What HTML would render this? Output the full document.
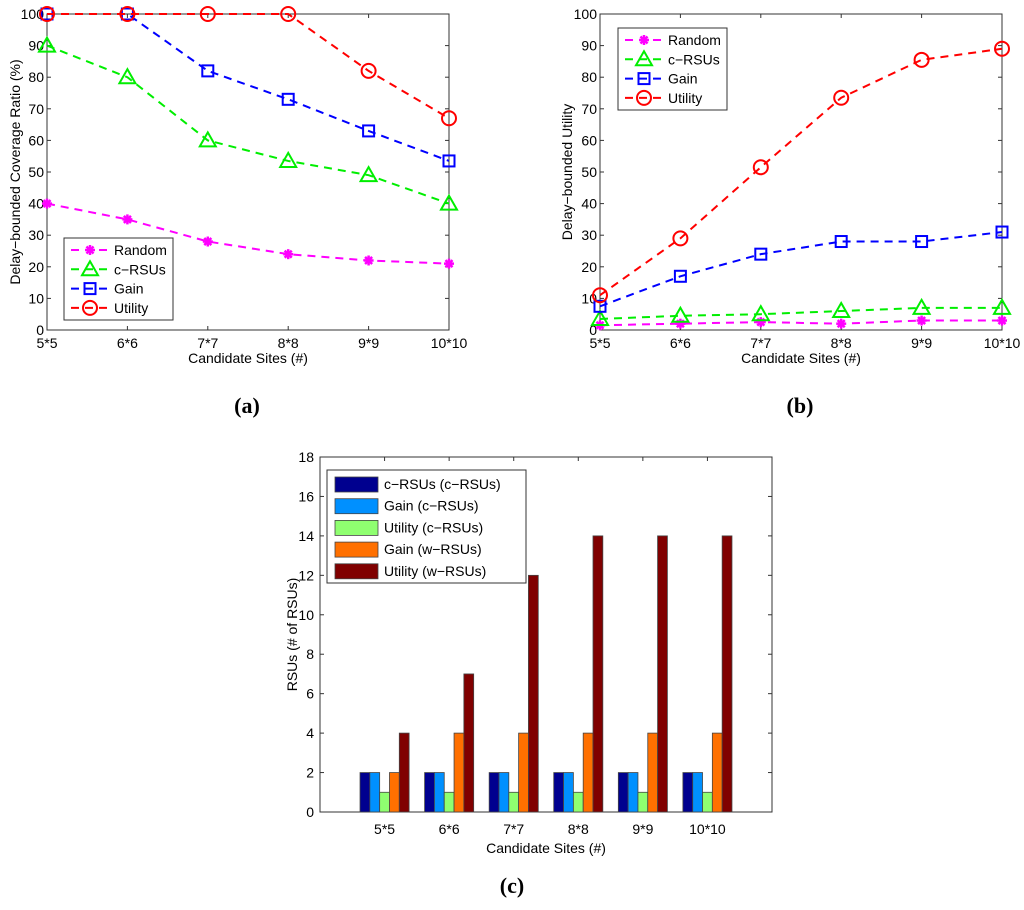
<!DOCTYPE html>
<html><head><meta charset="utf-8"><style>
body{margin:0;background:#fff;}
svg{display:block;font-family:"Liberation Sans",sans-serif;}
</style></head><body>
<svg id="root" width="1024" height="910" viewBox="0 0 1024 910" xmlns="http://www.w3.org/2000/svg"></svg>
<script>
const cats = ["5*5","6*6","7*7","8*8","9*9","10*10"];
const aRandom = [40,35,28,24,22,21];
const aCrsu = [90,80,60,53.5,49,40];
const aGain = [100,100,82,73,63,53.5];
const aUtil = [100,100,100,100,82,67];
const bRandom = [1.5,2,2.5,2,3,3];
const bCrsu = [3.5,4.5,5,6,7,7];
const bGain = [7.5,17,24,28,28,31];
const bUtil = [11,29,51.5,73.5,85.5,89];
const yTicksLine = [0,10,20,30,40,50,60,70,80,90,100];
const cCrsu = [2,2,2,2,2,2];
const cGainC = [2,2,2,2,2,2];
const cUtilC = [1,1,1,1,1,1];
const cGainW = [2,4,4,4,4,4];
const cUtilW = [4,7,12,14,14,14];
const yTicksBar = [0,2,4,6,8,10,12,14,16,18];

const NS="http://www.w3.org/2000/svg";
const root=document.getElementById('root');
function mk(tag,attrs,parent,name,text){const e=document.createElementNS(NS,tag);for(const k in attrs)e.setAttribute(k,attrs[k]);


if(text!==undefined)e.textContent=text;(parent||root).appendChild(e);return e;}

function marker(g,type,x,y,col,name){
 if(type==='star'){for(let i=0;i<4;i++){const a=i*Math.PI/4;mk('line',{x1:x-5*Math.cos(a),y1:y-5*Math.sin(a),x2:x+5*Math.cos(a),y2:y+5*Math.sin(a),stroke:col,'stroke-width':2.5},g,name);}}
 else if(type==='tri'){mk('polygon',{points:`${x},${y-8} ${x-8},${y+6} ${x+8},${y+6}`,fill:'none',stroke:col,'stroke-width':2},g,name);}
 else if(type==='sq'){mk('rect',{x:x-5.5,y:y-5.5,width:11,height:11,fill:'none',stroke:col,'stroke-width':2},g,name);}
 else {mk('circle',{cx:x,cy:y,r:7,fill:'none',stroke:col,'stroke-width':2},g,name);}
}

function linePanel(o){
 const g=mk('g',{},root,o.name);
 const X=i=>o.x0+(o.x1-o.x0)*i/(cats.length-1);
 const Y=v=>o.yb-(o.yb-o.yt)*v/100;
 mk('rect',{x:o.x0,y:o.yt,width:o.x1-o.x0,height:o.yb-o.yt,fill:'#fff',stroke:'#333','stroke-width':1},g,'plot-area');
 yTicksLine.forEach(v=>{const y=Y(v);
  mk('line',{x1:o.x0,y1:y,x2:o.x0+4,y2:y,stroke:'#333'},g,'y-tick');
  mk('line',{x1:o.x1,y1:y,x2:o.x1-4,y2:y,stroke:'#333'},g,'y-tick');
  mk('text',{x:o.x0-3,y:y+5,'text-anchor':'end','font-size':14},g,'y-tick-label',String(v));});
 cats.forEach((c,i)=>{const x=X(i);
  mk('line',{x1:x,y1:o.yb,x2:x,y2:o.yb-4,stroke:'#333'},g,'x-tick');
  mk('line',{x1:x,y1:o.yt,x2:x,y2:o.yt+4,stroke:'#333'},g,'x-tick');
  mk('text',{x:x,y:o.yb+18,'text-anchor':'middle','font-size':14},g,'x-tick-label',c);});
 o.series.forEach(s=>{
  const pts=s.data.map((v,i)=>X(i)+','+Y(v)).join(' ');
  mk('polyline',{points:pts,fill:'none',stroke:s.col,'stroke-width':2,'stroke-dasharray':'8,6'},g,'line-'+s.key);
  s.data.forEach((v,i)=>marker(g,s.m,X(i),Y(v),s.col,'point-'+s.key));
 });
 mk('text',{x:(o.x0+o.x1)/2,y:o.yb+33,'text-anchor':'middle','font-size':14},g,'x-axis-title','Candidate Sites (#)');
 mk('text',{x:0,y:0,'text-anchor':'middle','font-size':14,transform:`translate(${o.ytx},${(o.yt+o.yb)/2}) rotate(-90)`},g,'y-axis-title',o.ytitle);
 const L=mk('g',{},g,'legend');
 mk('rect',{x:o.lx,y:o.ly,width:109,height:82,fill:'#fff',stroke:'#333'},L,'legend-box');
 o.series.forEach((s,i)=>{const y=o.ly+12+i*19.3;
  mk('line',{x1:o.lx+7,y1:y,x2:o.lx+45,y2:y,stroke:s.col,'stroke-width':2,'stroke-dasharray':'8,6'},L,'legend-line');
  marker(L,s.m,o.lx+26,y,s.col,'legend-marker');
  mk('text',{x:o.lx+50,y:y+5,'font-size':14},L,'legend-entry',s.label);});
 mk('text',{x:o.labx,y:413,'text-anchor':'middle','font-size':22,'font-weight':'bold','font-family':'Liberation Serif, serif'},g,'panel-label',o.lab);
}
function ser(r,c,g,u){return [
 {key:'random',label:'Random',col:'#ff00ff',m:'star',data:r},
 {key:'c-rsus',label:'c\u2212RSUs',col:'#00ee00',m:'tri',data:c},
 {key:'gain',label:'Gain',col:'#0000ff',m:'sq',data:g},
 {key:'utility',label:'Utility',col:'#ff0000',m:'circ',data:u}];}
linePanel({name:'panel-a',x0:47,x1:449,yt:14,yb:330,ytx:20,ytitle:'Delay\u2212bounded Coverage Ratio (%)',lx:64,ly:238,series:ser(aRandom,aCrsu,aGain,aUtil),lab:'(a)',labx:247});
linePanel({name:'panel-b',x0:600,x1:1002,yt:14,yb:330,ytx:572,ytitle:'Delay\u2212bounded Utility',lx:618,ly:28,series:ser(bRandom,bCrsu,bGain,bUtil),lab:'(b)',labx:800});

(function(){
 const g=mk('g',{},root,'panel-c');
 const x0=320,x1=772,yt=457,yb=812;
 const X=u=>x0+(x1-x0)*u/7;
 const Y=v=>yb-(yb-yt)*v/18;
 mk('rect',{x:x0,y:yt,width:x1-x0,height:yb-yt,fill:'#fff',stroke:'#333'},g,'plot-area');
 yTicksBar.forEach(v=>{const y=Y(v);
  mk('line',{x1:x0,y1:y,x2:x0+4,y2:y,stroke:'#333'},g,'y-tick');
  mk('line',{x1:x1,y1:y,x2:x1-4,y2:y,stroke:'#333'},g,'y-tick');
  mk('text',{x:x0-6,y:y+5,'text-anchor':'end','font-size':14},g,'y-tick-label',String(v));});
 const series=[
  {key:'c-rsus-c',label:'c\u2212RSUs (c\u2212RSUs)',col:'#00008f',data:cCrsu},
  {key:'gain-c',label:'Gain (c\u2212RSUs)',col:'#0090ff',data:cGainC},
  {key:'utility-c',label:'Utility (c\u2212RSUs)',col:'#8fff70',data:cUtilC},
  {key:'gain-w',label:'Gain (w\u2212RSUs)',col:'#ff7000',data:cGainW},
  {key:'utility-w',label:'Utility (w\u2212RSUs)',col:'#800000',data:cUtilW}];
 const bw=0.152;
 cats.forEach((c,i)=>{const cx=i+1;
  mk('line',{x1:X(cx),y1:yt,x2:X(cx),y2:yt+4,stroke:'#333'},g,'x-tick');
  mk('text',{x:X(cx),y:yb+22,'text-anchor':'middle','font-size':14},g,'x-tick-label',c);
  series.forEach((s,j)=>{const l=cx+(j-2.5)*bw,v=s.data[i];
   mk('rect',{x:X(l),y:Y(v),width:X(l+bw)-X(l),height:Y(0)-Y(v),fill:s.col,stroke:'#444','stroke-width':0.8},g,'bar-'+s.key);});
 });
 mk('text',{x:546,y:853,'text-anchor':'middle','font-size':14},g,'x-axis-title','Candidate Sites (#)');
 mk('text',{x:0,y:0,'text-anchor':'middle','font-size':14,transform:`translate(297,${(yt+yb)/2}) rotate(-90)`},g,'y-axis-title','RSUs (# of RSUs)');
 const L=mk('g',{},g,'legend');
 mk('rect',{x:327,y:470,width:199,height:113,fill:'#fff',stroke:'#333'},L,'legend-box');
 series.forEach((s,i)=>{const y=484+i*21.7;
  mk('rect',{x:335,y:y-7,width:43,height:15,fill:s.col,stroke:'#444','stroke-width':0.8},L,'legend-swatch');
  mk('text',{x:384,y:y+5,'font-size':14},L,'legend-entry',s.label);});
 mk('text',{x:512,y:893,'text-anchor':'middle','font-size':22,'font-weight':'bold','font-family':'Liberation Serif, serif'},g,'panel-label','(c)');
})();
</script>
</body></html>
